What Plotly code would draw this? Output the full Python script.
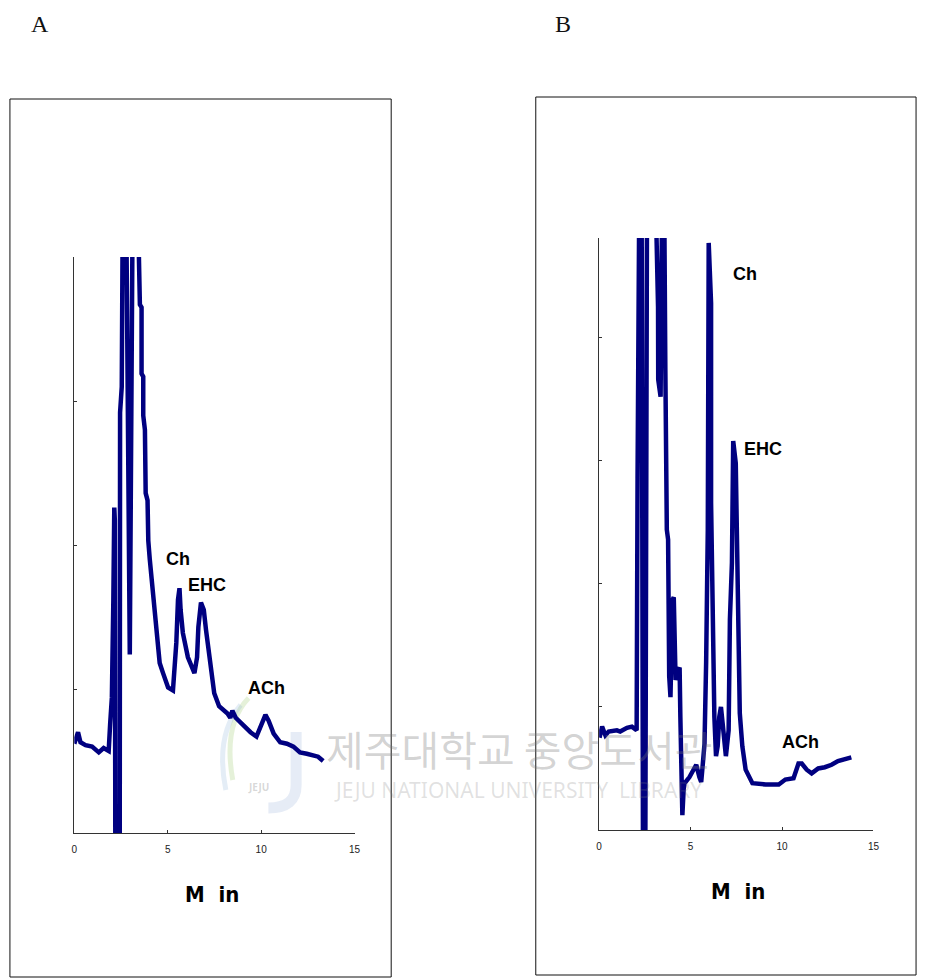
import plotly.graph_objects as go

# ---------------- data ----------------
# Panel A chromatogram: retention time (min) and detector signal (arbitrary units)
time_a = [0.00, 0.20, 0.33, 0.60, 0.95, 1.31, 1.57, 1.84, 1.92, 2.01, 2.09, 2.14, 2.17,
          2.20, 2.43, 2.45, 2.54, 2.60, 2.78, 2.80, 2.97, 3.13, 3.40, 3.46, 3.51, 3.60,
          3.60, 3.69, 3.69, 3.78, 3.82, 3.92, 3.96, 4.04, 4.13, 4.31, 4.49, 4.57, 4.75,
          5.02, 5.28, 5.46, 5.55, 5.63, 5.69, 5.81, 6.08, 6.43, 6.57, 6.64, 6.78, 6.93,
          7.05, 7.22, 7.49, 7.75, 8.20, 8.35, 8.46, 8.64, 9.08, 9.43, 9.75, 9.96, 10.23,
          10.40, 10.67, 11.02, 11.38, 11.73, 12.08, 12.44, 12.79, 13.05, 13.32]
signal_a = [0.62, 0.70, 0.63, 0.61, 0.60, 0.56, 0.59, 0.57, 0.76, 0.94, 1.62, 2.26, 2.17,
            -0.50, -0.50, 2.92, 3.10, 4.50, 4.50, 4.01, 1.24, 4.50, 4.50, 3.99, 3.67, 3.65,
            3.19, 3.17, 2.90, 2.80, 2.36, 2.31, 2.03, 1.90, 1.78, 1.57, 1.34, 1.18, 1.11,
            1.01, 0.99, 1.32, 1.62, 1.70, 1.55, 1.39, 1.22, 1.11, 1.22, 1.43, 1.60, 1.55,
            1.41, 1.22, 0.97, 0.88, 0.83, 0.80, 0.85, 0.80, 0.74, 0.70, 0.67, 0.74, 0.82,
            0.78, 0.69, 0.63, 0.62, 0.60, 0.56, 0.55, 0.54, 0.53, 0.50]

# Panel B chromatogram
time_b = [0.02, 0.16, 0.34, 0.52, 0.97, 1.15, 1.52, 1.79, 2.05, 2.08, 2.10, 2.20, 2.32,
          2.40, 2.52, 2.62, 3.10, 3.14, 3.22, 3.23, 3.36, 3.45, 3.55, 3.62, 3.68, 3.70,
          3.77, 3.77, 3.83, 3.90, 4.01, 4.08, 4.13, 4.18, 4.32, 4.40, 4.44, 4.49, 4.55,
          4.62, 4.67, 4.94, 5.31, 5.48, 5.58, 5.67, 5.76, 5.85, 5.94, 5.99, 6.12, 6.12,
          6.21, 6.30, 6.39, 6.48, 6.57, 6.66, 6.75, 6.84, 6.93, 7.08, 7.15, 7.26, 7.29,
          7.33, 7.47, 7.56, 7.65, 7.69, 7.83, 8.01, 8.38, 9.10, 9.82, 10.18, 10.63, 10.90,
          11.08, 11.35, 11.62, 11.98, 12.34, 12.71, 13.06, 13.43, 13.79]
signal_b = [0.75, 0.84, 0.77, 0.80, 0.81, 0.80, 0.83, 0.84, 0.81, 1.40, 2.86, 5.30, 5.30,
            -0.50, -0.50, 5.30, 5.30, 4.80, 4.25, 3.66, 3.52, 5.30, 5.30, 3.74, 3.00, 2.44,
            2.36, 1.65, 1.25, 1.08, 1.87, 1.89, 1.49, 1.22, 1.30, 1.32, 0.92, 0.38, 0.12,
            0.33, 0.38, 0.43, 0.53, 0.43, 0.39, 0.54, 0.70, 1.36, 2.44, 4.77, 4.28, 2.66,
            1.52, 0.92, 0.60, 0.68, 0.92, 1.00, 0.87, 0.68, 0.60, 0.81, 1.71, 2.17, 2.98,
            3.16, 2.98, 2.22, 1.38, 0.95, 0.68, 0.49, 0.38, 0.37, 0.37, 0.41, 0.42, 0.54,
            0.54, 0.49, 0.46, 0.50, 0.51, 0.53, 0.56, 0.58, 0.59]

x_ticks = [0, 5, 10, 15]
x_tick_labels = ["0", "5", "10", "15"]
peak_labels = ["Ch", "EHC", "ACh"]
panel_labels = ["A", "B"]
x_title = "M\u00a0\u00a0in"

# ---------------- figure ----------------
W, H = 927, 979
LINE = "#000080"


def px_x(p):
    return p / W


def px_y(p):
    return 1 - p / H


def px_path(points):
    out = []
    for cmd, pts in points:
        out.append(cmd + " " + " ".join(f"{px_x(x):.5f},{px_y(y):.5f}" for x, y in pts))
    return " ".join(out)


fig = go.Figure()
fig.add_trace(go.Scatter(x=time_a, y=signal_a, mode="lines",
                         line=dict(color=LINE, width=4.5),
                         xaxis="x", yaxis="y", showlegend=False, hoverinfo="skip"))
fig.add_trace(go.Scatter(x=time_b, y=signal_b, mode="lines",
                         line=dict(color=LINE, width=4.5),
                         xaxis="x2", yaxis="y2", showlegend=False, hoverinfo="skip"))

axis_common = dict(showgrid=False, zeroline=False, showline=True, linecolor="#333333",
                   linewidth=1, ticks="inside", ticklen=3, tickcolor="#333333", fixedrange=True)
tick_font = dict(family="Liberation Sans, Arial", size=10, color="#222222")

fig.update_layout(
    width=W, height=H, margin=dict(l=0, r=0, t=0, b=0),
    paper_bgcolor="white", plot_bgcolor="rgba(0,0,0,0)",
    xaxis=dict(domain=[px_x(72), px_x(355)], range=[0, 15], anchor="y",
               tickvals=x_ticks, ticktext=x_tick_labels, tickfont=tick_font,
               ticklabelstandoff=7, **axis_common),
    yaxis=dict(domain=[px_y(833), px_y(257)], range=[0, 4], anchor="x",
               tickvals=[0, 1, 2, 3, 4], showticklabels=False, **axis_common),
    xaxis2=dict(domain=[px_x(602), px_x(879)], range=[0, 15], anchor="y2",
                tickvals=x_ticks, ticktext=x_tick_labels, tickfont=tick_font,
                ticklabelstandoff=7, **axis_common),
    yaxis2=dict(domain=[px_y(830), px_y(238)], range=[0, 4.81], anchor="x2",
                tickvals=[0, 1, 2, 3, 4], showticklabels=False, **axis_common),
)

# outer frames of the two panels
for x0, x1, y0, y1 in [(7, 392, 99, 977), (538, 922, 97, 975)]:
    fig.add_shape(type="rect", xref="paper", yref="paper",
                  x0=px_x(x0), x1=px_x(x1), y0=px_y(y1), y1=px_y(y0),
                  line=dict(color="#111111", width=1), fillcolor="rgba(0,0,0,0)")

# faint library logo of the watermark (drawn beneath the traces)
fig.add_shape(type="path", xref="paper", yref="paper", layer="below",
              path=px_path([("M", [(296, 732)]), ("L", [(296, 785)]),
                            ("Q", [(296, 808), (268, 808)])]),
              line=dict(color="rgba(140,170,215,0.22)", width=11))
fig.add_shape(type="path", xref="paper", yref="paper", layer="below",
              path=px_path([("M", [(248, 698)]), ("Q", [(222, 725), (232, 780)])]),
              line=dict(color="rgba(160,205,120,0.28)", width=5))
fig.add_shape(type="path", xref="paper", yref="paper", layer="below",
              path=px_path([("M", [(240, 705)]), ("Q", [(214, 735), (225, 790)])]),
              line=dict(color="rgba(130,175,215,0.22)", width=5))

annots = []
# panel letters
for txt, (x, y) in zip(panel_labels, [(37, 24), (565, 24)]):
    annots.append(dict(text=txt, x=px_x(x), y=px_y(y), xref="paper", yref="paper",
                       showarrow=False, xanchor="center", yanchor="middle",
                       font=dict(family="Liberation Serif, DejaVu Serif", size=24, color="#111111")))
# axis titles
for x, y in [(211.5, 894), (742, 891)]:
    annots.append(dict(text=x_title, x=px_x(x), y=px_y(y), xref="paper", yref="paper",
                       showarrow=False, xanchor="center", yanchor="middle",
                       font=dict(family="DejaVu Sans Condensed, Liberation Sans Narrow, Liberation Sans",
                                 size=22, color="#000000", weight="bold")))
# peak labels
peak_pos_a = [(176.5, 559), (205.5, 584.5), (266, 688)]
peak_pos_b = [(749.3, 273.7), (767.5, 448.8), (805.5, 742.2)]
for pos_list in (peak_pos_a, peak_pos_b):
    for txt, (x, y) in zip(peak_labels, pos_list):
        annots.append(dict(text=txt, x=px_x(x), y=px_y(y), xref="paper", yref="paper",
                           showarrow=False, xanchor="center", yanchor="middle",
                           font=dict(family="Liberation Sans, Arial",
                                     size=18, color="#000000", weight="bold")))
# library watermark present in the source image
annots.append(dict(text="JEJU", x=px_x(258), y=px_y(787), xref="paper", yref="paper",
                   showarrow=False, xanchor="center", yanchor="middle",
                   font=dict(family="Noto Sans", size=10, color="rgba(120,120,120,0.3)",
                             weight="bold")))
annots.append(dict(text="제주대학교 중앙도서관", x=px_x(521), y=px_y(748), xref="paper", yref="paper",
                   showarrow=False, xanchor="center", yanchor="middle",
                   font=dict(family="Noto Sans CJK KR", size=41, color="rgba(120,120,120,0.33)")))
annots.append(dict(text="JEJU NATIONAL UNIVERSITY  LIBRARY", x=px_x(520), y=px_y(790),
                   xref="paper", yref="paper", showarrow=False, xanchor="center", yanchor="middle",
                   font=dict(family="Noto Sans", size=21, color="rgba(120,120,120,0.22)")))
fig.update_layout(annotations=annots)

fig.write_html("out.html")
